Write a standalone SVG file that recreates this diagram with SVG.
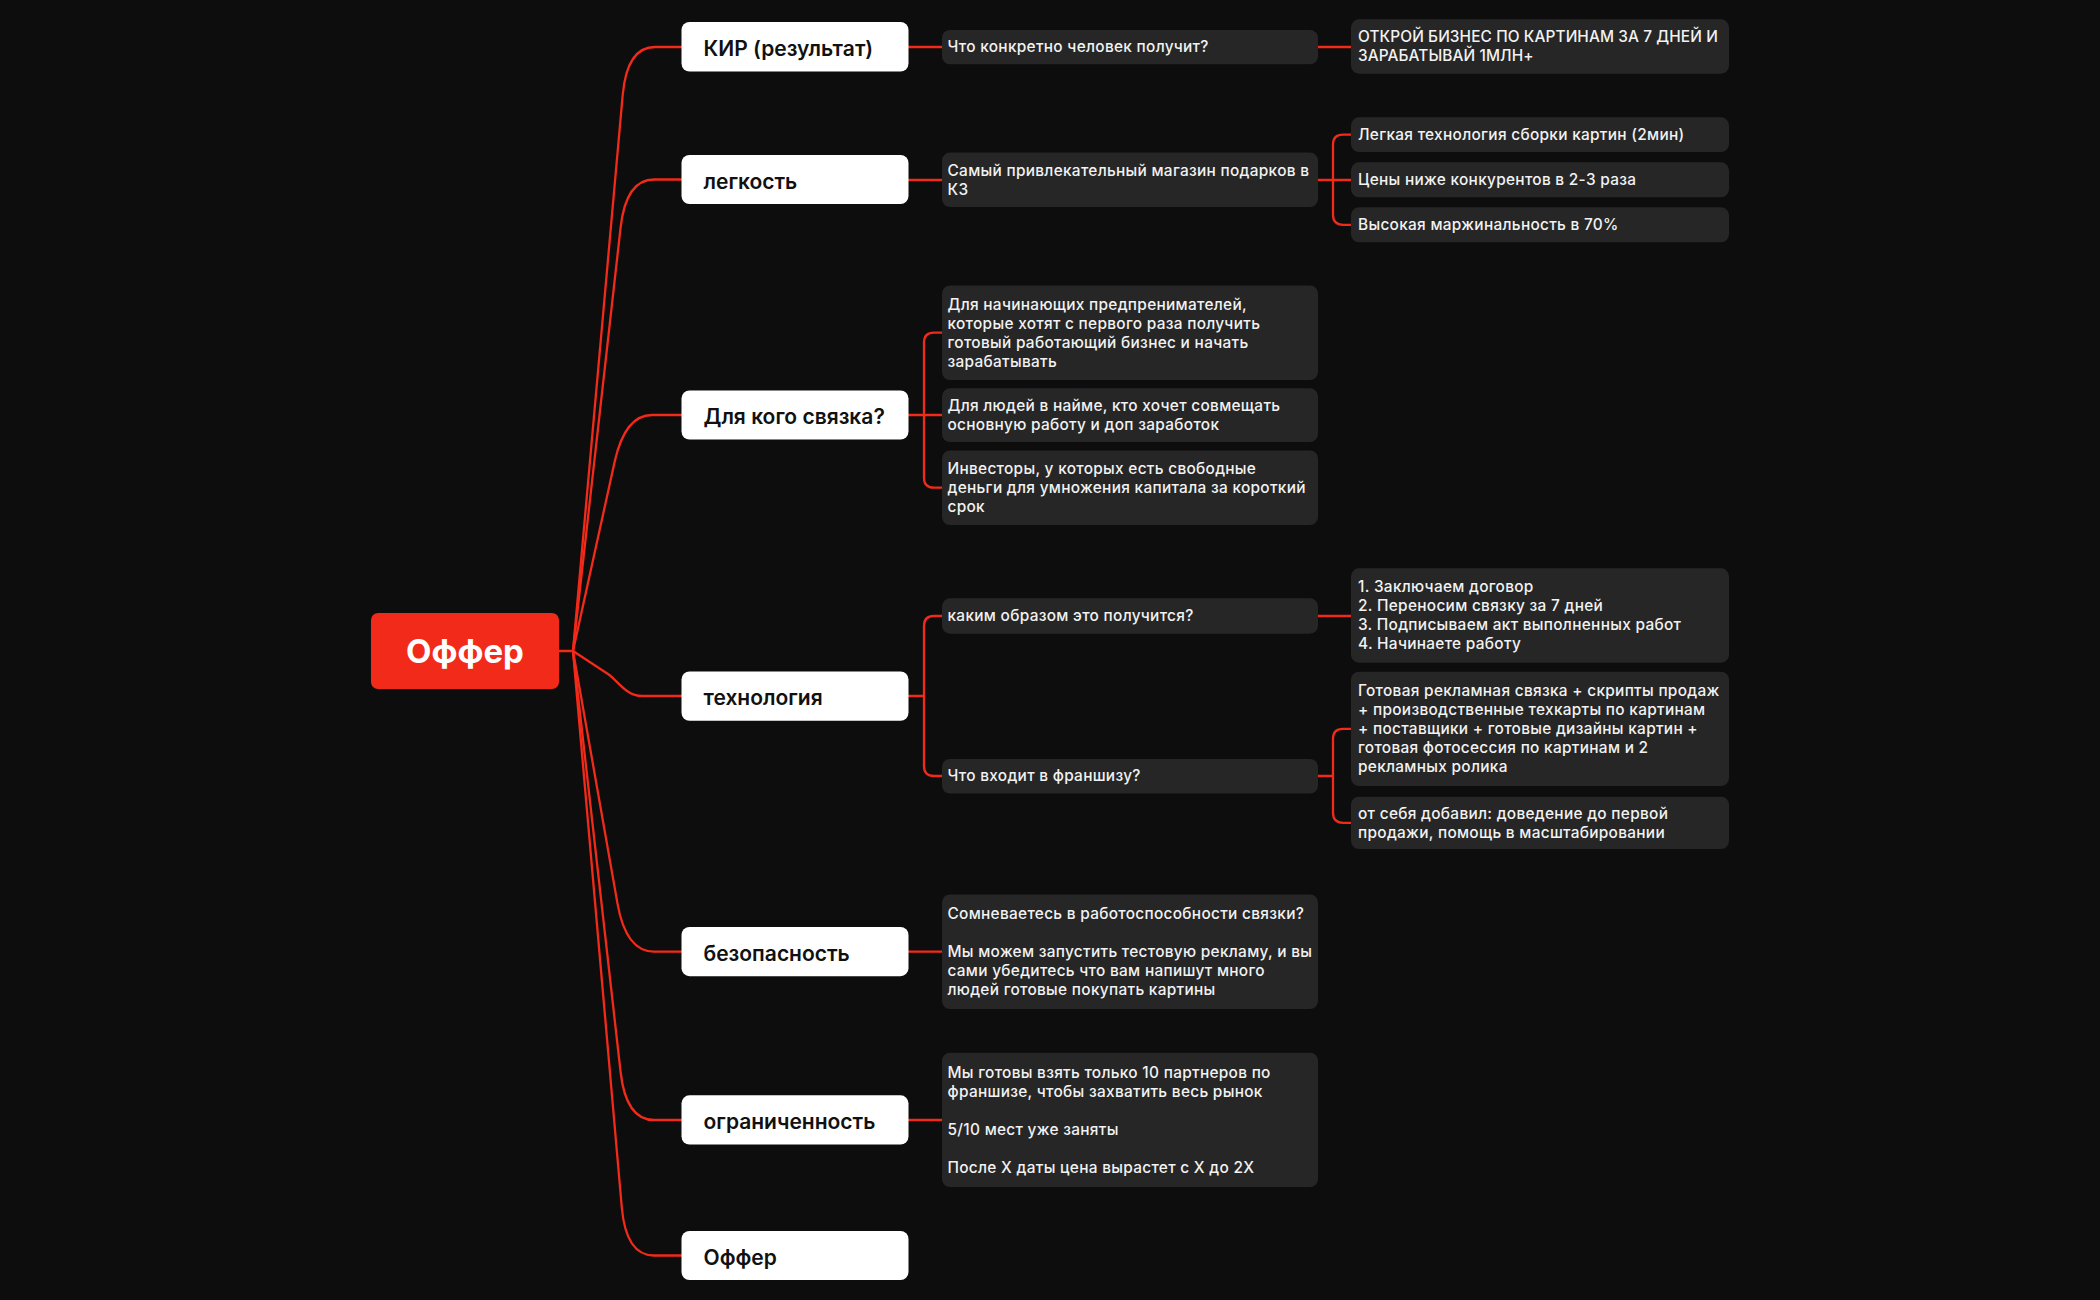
<svg xmlns="http://www.w3.org/2000/svg" width="2100" height="1300" viewBox="0 0 2100 1300">
<style>
.bg{fill:#0d0d0d}
.root{fill:#f22a19}
.l1{fill:#ffffff}
.l2{fill:#262626}
.c{fill:none;stroke:#f22a19;stroke-width:2.3;stroke-linecap:round;stroke-linejoin:round}
.tr{font-family:Inter,"Liberation Sans",sans-serif;font-weight:700;font-size:33px;fill:#ffffff}
.t1{font-family:Inter,"Liberation Sans",sans-serif;font-weight:600;font-size:21px;fill:#111111}
.t2{font-family:Inter,"Liberation Sans",sans-serif;font-weight:500;font-size:15.4px;letter-spacing:0.3px;fill:#f2f2f2}
.caps{letter-spacing:0.1px}
</style>
<rect class="bg" x="0" y="0" width="2100" height="1300"/>

<g id="connectors">
  <path class="c" d="M559,651 H573"/>
  <path class="c" d="M573,651 L622.7,95 Q627,47 655,47 H681.5"/>
  <path class="c" d="M573,651 L620.6,227.5 Q626,179.5 654,179.5 H681.5"/>
  <path class="c" d="M573,651 L614.6,462 Q625,415 652,415 H681.5"/>
  <path class="c" d="M573,651 L608,674 C618,681 626,696 642,696 H681.5"/>
  <path class="c" d="M573,651 L617.5,903.6 Q626,951.6 654,951.6 H681.5"/>
  <path class="c" d="M573,651 L620.6,1072 Q626,1120 654,1120 H681.5"/>
  <path class="c" d="M573,651 L621.8,1207.5 Q626,1255.5 654,1255.5 H681.5"/>

  <path class="c" d="M908.5,47 H942"/>
  <path class="c" d="M908.5,180 H942"/>
  <path class="c" d="M908.5,415 H942"/>
  <path class="c" d="M942,332.7 H934 Q924,332.7 924,342.7 V477.7 Q924,487.7 934,487.7 H942"/>
  <path class="c" d="M908.5,696 H924"/>
  <path class="c" d="M942,616 H934 Q924,616 924,626 V766 Q924,776 934,776 H942"/>
  <path class="c" d="M908.5,951.6 H942"/>
  <path class="c" d="M908.5,1120 H942"/>

  <path class="c" d="M1318,47 H1351"/>
  <path class="c" d="M1318,180 H1351"/>
  <path class="c" d="M1351,134.7 H1343 Q1333,134.7 1333,144.7 V214.8 Q1333,224.8 1343,224.8 H1351"/>
  <path class="c" d="M1318,616 H1351"/>
  <path class="c" d="M1318,776 H1333"/>
  <path class="c" d="M1351,728.8 H1343 Q1333,728.8 1333,738.8 V812.8 Q1333,822.8 1343,822.8 H1351"/>
</g>

<g id="root">
  <rect class="root" x="371" y="613" width="188" height="76" rx="7"/>
  <text class="tr" x="465" y="663" text-anchor="middle">Оффер</text>
</g>

<g id="n-kir">
  <rect class="l1" x="681.5" y="22" width="227" height="49.5" rx="8"/>
  <text class="t1" x="703.5" y="55.8">КИР (результат)</text>
</g>
<g id="n-legkost">
  <rect class="l1" x="681.5" y="155" width="227" height="49" rx="8"/>
  <text class="t1" x="703.5" y="188.5">легкость</text>
</g>
<g id="n-dlya-kogo">
  <rect class="l1" x="681.5" y="390.4" width="227" height="49.1" rx="8"/>
  <text class="t1" x="703.5" y="424">Для кого связка?</text>
</g>
<g id="n-tekhnologiya">
  <rect class="l1" x="681.5" y="671.5" width="227" height="49.3" rx="8"/>
  <text class="t1" x="703.5" y="705">технология</text>
</g>
<g id="n-bezopasnost">
  <rect class="l1" x="681.5" y="927" width="227" height="49.2" rx="8"/>
  <text class="t1" x="703.5" y="960.6">безопасность</text>
</g>
<g id="n-ogranichennost">
  <rect class="l1" x="681.5" y="1095.3" width="227" height="49.2" rx="8"/>
  <text class="t1" x="703.5" y="1129">ограниченность</text>
</g>
<g id="n-offer2">
  <rect class="l1" x="681.5" y="1231" width="227" height="49" rx="8"/>
  <text class="t1" x="703.5" y="1264.5">Оффер</text>
</g>

<g id="n-chto-konkretno">
  <rect class="l2" x="942" y="30" width="376" height="34.3" rx="8"/>
  <text class="t2" x="947.5" y="52.3">Что конкретно человек получит?</text>
</g>
<g id="n-samyi">
  <rect class="l2" x="942" y="152.6" width="376" height="54.4" rx="8"/>
  <text class="t2" x="947.5" y="175.8">Самый привлекательный магазин подарков в<tspan x="947.5" dy="19">КЗ</tspan></text>
</g>
<g id="n-nachinayushchikh">
  <rect class="l2" x="942" y="285.5" width="376" height="94.5" rx="8"/>
  <text class="t2" x="947.5" y="309.5">Для начинающих предпренимателей,<tspan x="947.5" dy="19">которые хотят с первого раза получить</tspan><tspan x="947.5" dy="19">готовый работающий бизнес и начать</tspan><tspan x="947.5" dy="19">зарабатывать</tspan></text>
</g>
<g id="n-lyudei">
  <rect class="l2" x="942" y="388.3" width="376" height="53.7" rx="8"/>
  <text class="t2" x="947.5" y="410.8">Для людей в найме, кто хочет совмещать<tspan x="947.5" dy="19">основную работу и доп заработок</tspan></text>
</g>
<g id="n-investory">
  <rect class="l2" x="942" y="450.4" width="376" height="74.6" rx="8"/>
  <text class="t2" x="947.5" y="474">Инвесторы, у которых есть свободные<tspan x="947.5" dy="19">деньги для умножения капитала за короткий</tspan><tspan x="947.5" dy="19">срок</tspan></text>
</g>
<g id="n-kakim">
  <rect class="l2" x="942" y="598.3" width="376" height="35.4" rx="8"/>
  <text class="t2" x="947.5" y="621.3">каким образом это получится?</text>
</g>
<g id="n-chto-vkhodit">
  <rect class="l2" x="942" y="759" width="376" height="34.5" rx="8"/>
  <text class="t2" x="947.5" y="781.3">Что входит в франшизу?</text>
</g>
<g id="n-somnevaetes">
  <rect class="l2" x="942" y="894.4" width="376" height="114.6" rx="8"/>
  <text class="t2" x="947.5" y="919">Сомневаетесь в работоспособности связки?<tspan x="947.5" dy="38">Мы можем запустить тестовую рекламу, и вы</tspan><tspan x="947.5" dy="19">сами убедитесь что вам напишут много</tspan><tspan x="947.5" dy="19">людей готовые покупать картины</tspan></text>
</g>
<g id="n-my-gotovy">
  <rect class="l2" x="942" y="1052.7" width="376" height="134.3" rx="8"/>
  <text class="t2" x="947.5" y="1077.8">Мы готовы взять только 10 партнеров по<tspan x="947.5" dy="19">франшизе, чтобы захватить весь рынок</tspan><tspan x="947.5" dy="38">5/10 мест уже заняты</tspan><tspan x="947.5" dy="38">После X даты цена вырастет с X до 2X</tspan></text>
</g>

<g id="n-otkroi">
  <rect class="l2" x="1351" y="19.3" width="378" height="54.4" rx="8"/>
  <text class="t2 caps" x="1358" y="42.3">ОТКРОЙ БИЗНЕС ПО КАРТИНАМ ЗА 7 ДНЕЙ И<tspan x="1358" dy="19">ЗАРАБАТЫВАЙ 1МЛН+</tspan></text>
</g>
<g id="n-legkaya">
  <rect class="l2" x="1351" y="117.3" width="378" height="34.7" rx="8"/>
  <text class="t2" x="1358" y="140">Легкая технология сборки картин (2мин)</text>
</g>
<g id="n-tseny">
  <rect class="l2" x="1351" y="162.3" width="378" height="35" rx="8"/>
  <text class="t2" x="1358" y="185.1">Цены ниже конкурентов в 2-3 раза</text>
</g>
<g id="n-vysokaya">
  <rect class="l2" x="1351" y="207.3" width="378" height="35" rx="8"/>
  <text class="t2" x="1358" y="230.1">Высокая маржинальность в 70%</text>
</g>
<g id="n-shagi">
  <rect class="l2" x="1351" y="568.3" width="378" height="94.4" rx="8"/>
  <text class="t2" x="1358" y="592.3">1. Заключаем договор<tspan x="1358" dy="19">2. Переносим связку за 7 дней</tspan><tspan x="1358" dy="19">3. Подписываем акт выполненных работ</tspan><tspan x="1358" dy="19">4. Начинаете работу</tspan></text>
</g>
<g id="n-gotovaya">
  <rect class="l2" x="1351" y="671.7" width="378" height="114.3" rx="8"/>
  <text class="t2" x="1358" y="696.1">Готовая рекламная связка + скрипты продаж<tspan x="1358" dy="19">+ производственные техкарты по картинам</tspan><tspan x="1358" dy="19">+ поставщики + готовые дизайны картин +</tspan><tspan x="1358" dy="19">готовая фотосессия по картинам и 2</tspan><tspan x="1358" dy="19">рекламных ролика</tspan></text>
</g>
<g id="n-ot-sebya">
  <rect class="l2" x="1351" y="796.7" width="378" height="52.3" rx="8"/>
  <text class="t2" x="1358" y="818.6">от себя добавил: доведение до первой<tspan x="1358" dy="19">продажи, помощь в масштабировании</tspan></text>
</g>
</svg>
